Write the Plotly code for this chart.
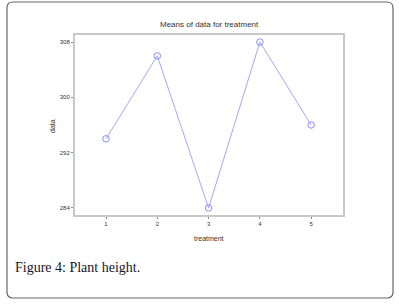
import plotly.graph_objects as go

treatment = [1, 2, 3, 4, 5]
means = [294, 306, 284, 308, 296]
y_ticks = [284, 292, 300, 308]
x_ticks = [1, 2, 3, 4, 5]

W, H = 399, 305
L, R, T, B = 74, 344, 34, 216

fig = go.Figure()
fig.add_trace(go.Scatter(
    x=treatment, y=means, mode="lines+markers",
    line=dict(color="rgba(150,150,255,0.85)", width=1),
    marker=dict(symbol="circle-open", size=6.5, color="rgba(120,120,255,0.85)", line=dict(width=1)),
    showlegend=False,
))

def px(x): return x / W
def py(y): return 1 - y / H

fig.update_layout(
    width=W, height=H,
    margin=dict(l=0, r=0, t=0, b=0),
    paper_bgcolor="white", plot_bgcolor="white",
    xaxis=dict(domain=[px(L), px(R)], range=[0.376, 5.64], tickvals=x_ticks,
               showgrid=False, zeroline=False, showline=False,
               ticks="outside", ticklen=2, tickcolor="#888", tickwidth=1,
               tickfont=dict(family="Liberation Sans", size=6, color="#333")),
    yaxis=dict(domain=[py(B), py(T)], range=[282.84, 309.16], tickvals=y_ticks,
               showgrid=False, zeroline=False, showline=False,
               ticks="outside", ticklen=2, tickcolor="#888", tickwidth=1,
               tickfont=dict(family="Liberation Sans", size=6, color="#333"),
               tickangle=0),
    font=dict(family="Liberation Sans"),
)

# plot frame
fig.add_shape(type="rect", xref="paper", yref="paper",
              x0=px(L), x1=px(R), y0=py(B), y1=py(T),
              line=dict(color="#c8c8c8", width=2))

# outer rounded border
x0, x1, y0, y1, r = 7, 393, 2, 298, 6
path = (f"M {px(x0+r)},{py(y0)} L {px(x1-r)},{py(y0)} Q {px(x1)},{py(y0)} {px(x1)},{py(y0+r)} "
        f"L {px(x1)},{py(y1-r)} Q {px(x1)},{py(y1)} {px(x1-r)},{py(y1)} "
        f"L {px(x0+r)},{py(y1)} Q {px(x0)},{py(y1)} {px(x0)},{py(y1-r)} "
        f"L {px(x0)},{py(y0+r)} Q {px(x0)},{py(y0)} {px(x0+r)},{py(y0)} Z")
fig.add_shape(type="path", xref="paper", yref="paper", path=path,
              line=dict(color="#666", width=1.2))

fig.add_annotation(text="Means of data for treatment", xref="paper", yref="paper",
                   x=px(209), y=py(25), yanchor="middle", showarrow=False,
                   font=dict(family="Liberation Sans", size=8, color="#333"))
fig.add_annotation(text="treatment", xref="paper", yref="paper",
                   x=px(209), y=py(238), yanchor="middle", showarrow=False,
                   font=dict(family="Liberation Sans", size=7, color="#333"))
fig.add_annotation(text="data", xref="paper", yref="paper",
                   x=px(53), y=py(126), xanchor="center", yanchor="middle", showarrow=False, textangle=-90,
                   font=dict(family="Liberation Sans", size=7, color="#333"))
fig.add_annotation(text="Figure 4: Plant height.", xref="paper", yref="paper",
                   x=px(13), y=py(267), xanchor="left", yanchor="middle", showarrow=False,
                   font=dict(family="Liberation Serif", size=14, color="#14142b"))

fig.write_html("out.html", post_script="document.body.style.margin='0';",
               config={"displayModeBar": False})
